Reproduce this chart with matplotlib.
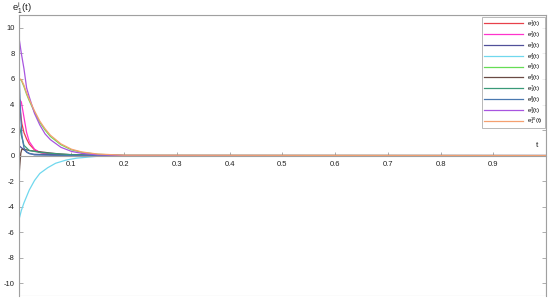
import matplotlib
matplotlib.use("Agg")
import matplotlib.pyplot as plt
from matplotlib.patches import Rectangle

plt.rcParams['font.family'] = ['Liberation Sans', 'DejaVu Sans']
plt.rcParams['mathtext.default'] = 'regular'

# ---- data ----
t1 = [0, 0.003, 0.006, 0.01, 0.015, 0.02, 0.03, 0.04, 0.06, 0.1, 0.2, 1.0]
e1 = [5.0, 3.5, 2.5, 1.8, 1.3, 0.9, 0.45, 0.25, 0.08, 0.02, 0.0, 0.0]

t2 = [0, 0.005, 0.01, 0.015, 0.02, 0.03, 0.04, 0.06, 0.1, 0.2, 1.0]
e2 = [4.5, 4.2, 3.0, 1.8, 1.1, 0.5, 0.25, 0.08, 0.02, 0.0, 0.0]

t3 = [0, 0.01, 0.02, 0.03, 0.05, 0.08, 0.1, 0.15, 0.2, 1.0]
e3 = [0.8, 0.45, 0.15, 0.1, 0.08, 0.05, 0.03, 0.01, 0.0, 0.0]

t4 = [0, 0.005, 0.01, 0.02, 0.03, 0.04, 0.055, 0.07, 0.09, 0.11, 0.15, 0.2, 1.0]
e4 = [-5.1, -4.3, -3.7, -2.7, -1.95, -1.4, -0.95, -0.6, -0.35, -0.2, -0.05, 0.0, 0.0]

t5 = [0, 0.005, 0.01, 0.015, 0.02, 0.03, 0.04, 0.05, 0.06, 0.08, 0.1, 0.12, 0.15, 0.2, 1.0]
e5 = [6.0, 5.9, 5.4, 4.8, 4.3, 3.4, 2.6, 2.0, 1.5, 0.85, 0.45, 0.25, 0.1, 0.02, 0.0]

t6 = [0, 0.002, 0.004, 0.006, 0.01, 0.02, 0.04, 0.06, 0.08, 0.1, 0.15, 0.2, 1.0]
e6 = [-2.0, -0.8, 0.2, 0.5, 0.5, 0.4, 0.3, 0.2, 0.12, 0.07, 0.02, 0.0, 0.0]

t7 = [0, 0.005, 0.01, 0.02, 0.04, 0.06, 0.08, 0.1, 0.15, 0.2, 1.0]
e7 = [2.6, 1.6, 0.8, 0.4, 0.25, 0.18, 0.12, 0.07, 0.02, 0.0, 0.0]

t8 = [0, 0.002, 0.004, 0.006, 0.01, 0.015, 0.03, 0.1, 1.0]
e8 = [7.7, 5.0, 3.0, 1.6, 0.6, 0.25, 0.05, 0.0, 0.0]

t9 = [0, 0.005, 0.01, 0.015, 0.02, 0.03, 0.04, 0.05, 0.06, 0.08, 0.1, 0.12, 0.15, 0.2, 1.0]
e9 = [9.4, 8.0, 6.8, 5.3, 4.6, 3.3, 2.4, 1.7, 1.25, 0.65, 0.33, 0.17, 0.06, 0.01, 0.0]

t10 = [0, 0.005, 0.01, 0.015, 0.02, 0.03, 0.04, 0.05, 0.06, 0.08, 0.1, 0.12, 0.15, 0.2, 1.0]
e10 = [6.05, 5.95, 5.5, 4.9, 4.4, 3.5, 2.7, 2.1, 1.6, 0.92, 0.5, 0.28, 0.12, 0.03, 0.0]

series_t = [t1, t2, t3, t4, t5, t6, t7, t8, t9, t10]
series_e = [e1, e2, e3, e4, e5, e6, e7, e8, e9, e10]
labels = [r'$e_1^{%d}(t)$' % i for i in range(1, 11)]
colors = ['#e8404a', '#ff33cc', '#50509a', '#70d8ee', '#66dd55',
          '#6a4a44', '#3a9a78', '#4a78b0', '#a855e0', '#f5a070']

xticks = [0.1, 0.2, 0.3, 0.4, 0.5, 0.6, 0.7, 0.8, 0.9]
yticks = [-10, -8, -6, -4, -2, 0, 2, 4, 6, 8, 10]

fig = plt.figure(figsize=(5.5, 3.03), dpi=100)
ax = fig.add_axes([0.034, 0.023, 0.959, 0.927])

for tt, ee, lab, c in zip(series_t, series_e, labels, colors):
    ax.plot(tt, ee, color=c, lw=0.9, label=lab)

ax.set_xlim(0, 1)
ax.set_ylim(-11, 11)
ax.set_xticks(xticks)
ax.set_xticklabels(['%.1f' % v for v in xticks])
ax.set_yticks(yticks)
ax.set_yticklabels([str(v) for v in yticks])

gray = '#a0a0a0'
ax.spines['bottom'].set_position(('data', 0))
ax.spines['bottom'].set_color(gray)
for s in ['left', 'right', 'top']:
    ax.spines[s].set_color(gray)
    ax.spines[s].set_linewidth(0.8)
ax.add_patch(Rectangle((0, 0), 1, 1, transform=ax.transAxes, fill=False,
                       edgecolor='#c8c8c8', lw=0.8, zorder=0))
ax.tick_params(axis='both', direction='in', length=3, width=0.6, color=gray,
               labelsize=5.5, labelcolor='#222222', pad=2)
ax.tick_params(axis='x', pad=4)
ax.tick_params(axis='y', right=True, pad=3)

ax.text(0.983, 0.535, 't', transform=ax.transAxes, fontsize=6, color='#222222',
        ha='center', va='center')
fig.text(0.022, 0.972, r'$e_1^i(t)$', fontsize=6.8, color='#222222', ha='left', va='center')

leg = ax.legend(loc='upper right', fontsize=4.3, frameon=True, fancybox=False,
                edgecolor='#999999', borderaxespad=0.25, handlelength=6.6,
                labelspacing=0.0, borderpad=0.3, handletextpad=0.7)
leg.get_frame().set_linewidth(0.6)

fig.savefig('out.png', dpi=100)
